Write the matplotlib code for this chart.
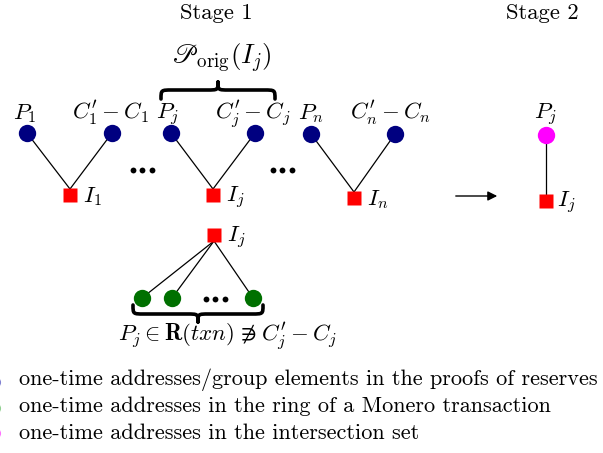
import matplotlib
matplotlib.use("Agg")
import matplotlib.pyplot as plt
from matplotlib.path import Path
from matplotlib.patches import PathPatch

plt.rcParams['mathtext.fontset'] = 'cm'
plt.rcParams['font.family'] = ['cmr10', 'DejaVu Serif']

# ---- content ----
stage_titles = ["Stage 1", "Stage 2"]
blue_labels = [r"$P_1$", r"$C_1^{\prime}-C_1$", r"$P_j$", r"$C_j^{\prime}-C_j$",
               r"$P_n$", r"$C_n^{\prime}-C_n$"]
red_labels = [r"$I_1$", r"$I_j$", r"$I_n$"]
stage2_node_label = r"$P_j$"
stage2_key_label = r"$I_j$"
orig_label = r"$\mathscr{P}_{\mathrm{orig}}(I_j)$"
ring_key_label = r"$I_j$"
ring_label = r"$P_j \in \mathbf{R}(txn)$ ∌ $C_j^{\prime}-C_j$"
legend_labels = ["one-time addresses/group elements in the proofs of reserves",
                 "one-time addresses in the ring of a Monero transaction",
                 "one-time addresses in the intersection set"]

# ---- layout (pixel coordinates) ----
blue_x = [27, 112, 171, 255, 311, 395]
blue_y = [133, 133, 133, 133, 134, 134]
blue_label_x = [25, 110, 168, 253, 311, 390]
red_x = [70, 213, 354]
red_y = [195, 195, 198]
pink_xy = (546, 135)
stage2_red_xy = (546, 201)
ring_red_xy = (214, 235)
green_x = [142, 172, 253]
green_y = [298, 298, 298]
dots_xy = [(142, 170), (282, 170), (215, 299)]
legend_y = [385, 412, 439]
legend_marker_y = [382, 408, 433]

NAVY = '#000080'
RED = '#ff0000'
GREEN = '#007000'
MAGENTA = '#ff00ff'

fig = plt.figure(figsize=(6.03, 4.53), dpi=100)
ax = fig.add_axes([0, 0, 1, 1])
ax.set_xlim(0, 603)
ax.set_ylim(453, 0)
ax.axis('off')

NODE_MS = 12.5
SQ_MS = 9.5
LFS = 16.5

# Stage titles
ax.text(216, 19, stage_titles[0], ha='center', va='baseline', fontsize=16.3)
ax.text(542, 19, stage_titles[1], ha='center', va='baseline', fontsize=16.3)

# edges stage 1
for i in range(3):
    for k in (2 * i, 2 * i + 1):
        ax.plot([blue_x[k], red_x[i]], [blue_y[k], red_y[i] - 6], color='black', lw=0.9, zorder=1)
ax.plot(blue_x, blue_y, 'o', color=NAVY, ms=NODE_MS, mec='none', zorder=3)
ax.plot(red_x, red_y, 's', color=RED, ms=SQ_MS, mec='none', zorder=3)

for k, lab in enumerate(blue_labels):
    ax.text(blue_label_x[k], 119, lab, ha='center', va='baseline', fontsize=LFS)
for i, lab in enumerate(red_labels):
    ax.text(red_x[i] + 13, red_y[i] + 7, lab, ha='left', va='baseline', fontsize=LFS)

# ellipses (three dots)
for cx, cy in dots_xy:
    ax.plot([cx - 9.5, cx, cx + 9.5], [cy] * 3, 'o', color='black', ms=4.2, mec='none')


def draw_brace(x0, x1, xm, ye, ym, yt, lw=2.6):
    r = 11
    verts = [(x0, ye),
             (x0, ym), (x0, ym), (x0 + r, ym),
             (xm - r, ym),
             (xm, ym), (xm, ym), (xm, yt),
             (xm, ym), (xm, ym), (xm + r, ym),
             (x1 - r, ym),
             (x1, ym), (x1, ym), (x1, ye)]
    codes = [Path.MOVETO,
             Path.CURVE4, Path.CURVE4, Path.CURVE4,
             Path.LINETO,
             Path.CURVE4, Path.CURVE4, Path.CURVE4,
             Path.CURVE4, Path.CURVE4, Path.CURVE4,
             Path.LINETO,
             Path.CURVE4, Path.CURVE4, Path.CURVE4]
    ax.add_patch(PathPatch(Path(verts, codes), fill=False, lw=lw, color='black',
                           capstyle='round', joinstyle='round'))


draw_brace(161, 275, 218, 99, 90, 82)
ax.text(222, 64, orig_label, ha='center', va='baseline', fontsize=19.5)

# arrow
ax.annotate('', xy=(500, 196), xytext=(453, 196),
            arrowprops=dict(arrowstyle='-|>', color='black', lw=1.0, mutation_scale=14))

# stage 2
ax.plot([pink_xy[0], stage2_red_xy[0]], [pink_xy[1], stage2_red_xy[1]], color='black', lw=0.9, zorder=1)
ax.plot([pink_xy[0]], [pink_xy[1]], 'o', color=MAGENTA, ms=NODE_MS, mec='none', zorder=3)
ax.plot([stage2_red_xy[0]], [stage2_red_xy[1]], 's', color=RED, ms=SQ_MS, mec='none', zorder=3)
ax.text(pink_xy[0], 119, stage2_node_label, ha='center', va='baseline', fontsize=LFS)
ax.text(stage2_red_xy[0] + 11, stage2_red_xy[1] + 6, stage2_key_label, ha='left', va='baseline', fontsize=LFS)

# ring part
for gx, gy in zip(green_x, green_y):
    ax.plot([ring_red_xy[0], gx], [ring_red_xy[1] + 6, gy], color='black', lw=0.9, zorder=1)
ax.plot(green_x, green_y, 'o', color=GREEN, ms=NODE_MS, mec='none', zorder=3)
ax.plot([ring_red_xy[0]], [ring_red_xy[1]], 's', color=RED, ms=SQ_MS, mec='none', zorder=3)
ax.text(ring_red_xy[0] + 13, ring_red_xy[1] + 7, ring_key_label, ha='left', va='baseline', fontsize=LFS)
draw_brace(133, 263, 198, 305, 314, 322)
ax.text(227, 341, ring_label, ha='center', va='baseline', fontsize=LFS,
        family=['STIXGeneral', 'DejaVu Serif'])

# legend (markers clipped at the left edge)
leg_colors = ['#8080d0', '#90d090', '#ff70ff']
for y, my, lab, c in zip(legend_y, legend_marker_y, legend_labels, leg_colors):
    ax.plot([-4.8], [my], 'o', color=c, ms=8, mec='none', clip_on=True)
    ax.text(19, y, lab, ha='left', va='baseline', fontsize=16)

fig.savefig('out.png', dpi=100)
